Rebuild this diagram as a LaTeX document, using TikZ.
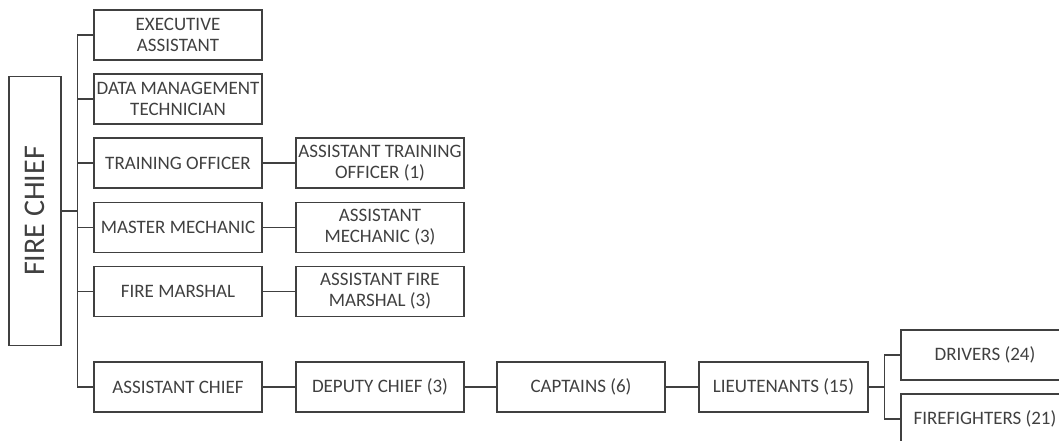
\documentclass[tikz,border=0pt]{standalone}
\usepackage{fontspec}
\setmainfont{Carlito}
\usepackage{tikz}
\definecolor{ink}{HTML}{404040}

\begin{document}
\begin{tikzpicture}[x=1pt,y=-1pt,
  box/.style={draw=ink,line width=1.1pt,text=ink,align=center,inner sep=0pt,
    minimum width=168pt,minimum height=50pt,font=\fontsize{19}{21}\selectfont},
  link/.style={draw=ink,line width=1.1pt}]
\useasboundingbox (0,0) rectangle (1059,441);
\clip (0,0) rectangle (1059,441);
% head of department
\node[box,rotate=90,minimum width=269pt,minimum height=52pt,font=\fontsize{30}{32}\selectfont] (chief) at (35,211) {FIRE CHIEF};
% direct reports
\node[box] (exec) at (178,35) {EXECUTIVE\\ASSISTANT};
\node[box] (data) at (178,99) {DATA MANAGEMENT\\TECHNICIAN};
\node[box] (train) at (178,163) {TRAINING OFFICER};
\node[box] (mech) at (178,227.5) {MASTER MECHANIC};
\node[box] (marshal) at (178,291.5) {FIRE MARSHAL};
\node[box] (asstchief) at (178,387) {ASSISTANT CHIEF};
% second column
\node[box] (asttrain) at (380,163) {ASSISTANT TRAINING\\OFFICER (1)};
\node[box] (astmech) at (380,227.5) {ASSISTANT\\MECHANIC (3)};
\node[box] (astmarshal) at (380,291.5) {ASSISTANT FIRE\\MARSHAL (3)};
% line of command
\node[box] (deputy) at (380,387) {DEPUTY CHIEF (3)};
\node[box] (captains) at (581,387) {CAPTAINS (6)};
\node[box,minimum width=169pt] (lieut) at (783.5,387) {LIEUTENANTS (15)};
\node[box] (drivers) at (985,355) {DRIVERS (24)};
\node[box] (firefighters) at (985,419) {FIREFIGHTERS (21)};

\foreach \n in {exec,data,train,mech,marshal,asstchief}
  \draw[link] (\n.west) -- ++(-16,0) |- (chief.south);
\draw[link] (train.east) -- (asttrain.west);
\draw[link] (mech.east) -- (astmech.west);
\draw[link] (marshal.east) -- (astmarshal.west);
\draw[link] (asstchief.east) -- (deputy.west);
\draw[link] (deputy.east) -- (captains.west);
\draw[link] (captains.east) -- (lieut.west);
\draw[link] (drivers.west) -- ++(-16,0) |- (lieut.east);
\draw[link] (firefighters.west) -- ++(-16,0) |- (lieut.east);
\end{tikzpicture}
\end{document}
